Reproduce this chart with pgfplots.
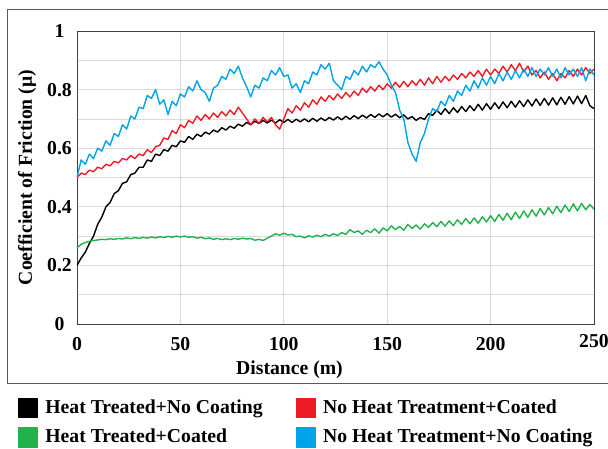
\documentclass[border=0pt]{standalone}
\usepackage{fontspec}
\setmainfont{Liberation Serif}
\usepackage{pgfplots}
\pgfplotsset{compat=1.18}

\definecolor{cblack}{HTML}{000000}
\definecolor{cred}{HTML}{ED1C24}
\definecolor{cgreen}{HTML}{22B14C}
\definecolor{cblue}{HTML}{00A2E8}
\definecolor{gridgray}{HTML}{D9D9D9}
\definecolor{axisgray}{HTML}{404040}
\definecolor{framegray}{HTML}{595959}

% Heat Treated + No Coating
\pgfplotstableread{
x y
0 0.200
2 0.225
4 0.245
6 0.275
8 0.300
10 0.340
12 0.365
14 0.400
16 0.415
18 0.445
20 0.455
22 0.480
24 0.485
26 0.510
28 0.515
30 0.535
32 0.535
34 0.560
36 0.555
38 0.580
40 0.575
42 0.595
44 0.590
46 0.610
48 0.605
50 0.625
52 0.620
54 0.640
56 0.630
58 0.648
60 0.640
62 0.655
64 0.648
66 0.662
68 0.655
70 0.670
72 0.662
74 0.675
76 0.668
78 0.682
80 0.675
82 0.688
84 0.680
86 0.692
88 0.684
90 0.695
92 0.686
94 0.696
96 0.686
98 0.697
100 0.688
102 0.698
104 0.688
106 0.699
108 0.690
110 0.700
112 0.690
114 0.702
116 0.692
118 0.703
120 0.694
122 0.705
124 0.696
126 0.707
128 0.697
130 0.709
132 0.699
134 0.711
136 0.701
138 0.713
140 0.703
142 0.715
144 0.705
146 0.717
148 0.707
150 0.718
152 0.706
154 0.716
156 0.704
158 0.714
160 0.700
162 0.708
164 0.695
166 0.705
168 0.698
170 0.718
172 0.712
174 0.730
176 0.715
178 0.735
180 0.718
182 0.738
184 0.722
186 0.742
188 0.725
190 0.745
192 0.728
194 0.750
196 0.730
198 0.752
200 0.733
202 0.755
204 0.735
206 0.758
208 0.738
210 0.760
212 0.740
214 0.762
216 0.742
218 0.765
220 0.744
222 0.768
224 0.746
226 0.770
228 0.747
230 0.772
232 0.748
234 0.774
236 0.750
238 0.776
240 0.751
242 0.778
244 0.752
246 0.780
248 0.745
250 0.735
}\htnc

% No Heat Treatment + Coated
\pgfplotstableread{
x y
0 0.500
2 0.515
4 0.510
6 0.525
8 0.520
10 0.535
12 0.530
14 0.545
16 0.540
18 0.555
20 0.550
22 0.565
24 0.560
26 0.575
28 0.565
30 0.580
32 0.575
34 0.595
36 0.585
38 0.605
40 0.610
42 0.635
44 0.630
46 0.660
48 0.650
50 0.680
52 0.670
54 0.695
56 0.685
58 0.710
60 0.695
62 0.715
64 0.700
66 0.720
68 0.705
70 0.725
72 0.710
74 0.730
76 0.715
78 0.740
80 0.720
82 0.700
84 0.680
86 0.700
88 0.685
90 0.705
92 0.690
94 0.705
96 0.680
98 0.665
100 0.700
102 0.735
104 0.720
106 0.745
108 0.730
110 0.755
112 0.740
114 0.765
116 0.750
118 0.775
120 0.760
122 0.780
124 0.765
126 0.785
128 0.770
130 0.790
132 0.775
134 0.795
136 0.780
138 0.805
140 0.790
142 0.810
144 0.795
146 0.815
148 0.800
150 0.820
152 0.805
154 0.825
156 0.808
158 0.828
160 0.810
162 0.830
164 0.815
166 0.835
168 0.815
170 0.840
172 0.820
174 0.845
176 0.825
178 0.845
180 0.830
182 0.850
184 0.835
186 0.855
188 0.840
190 0.860
192 0.845
194 0.865
196 0.845
198 0.870
200 0.850
202 0.870
204 0.855
206 0.880
208 0.860
210 0.885
212 0.865
214 0.890
216 0.860
218 0.880
220 0.850
222 0.865
224 0.840
226 0.860
228 0.835
230 0.855
232 0.830
234 0.855
236 0.840
238 0.865
240 0.845
242 0.870
244 0.850
246 0.875
248 0.855
250 0.870
}\nhtc

% Heat Treated + Coated
\pgfplotstableread{
x y
0 0.260
2 0.272
4 0.278
6 0.282
8 0.285
10 0.287
12 0.289
14 0.288
16 0.291
18 0.289
20 0.292
22 0.290
24 0.294
26 0.291
28 0.295
30 0.292
32 0.296
34 0.293
36 0.297
38 0.294
40 0.298
42 0.295
44 0.299
46 0.296
48 0.300
50 0.297
52 0.300
54 0.296
56 0.298
58 0.293
60 0.296
62 0.291
64 0.294
66 0.289
68 0.292
70 0.288
72 0.291
74 0.288
76 0.292
78 0.289
80 0.293
82 0.290
84 0.292
86 0.286
88 0.289
90 0.285
92 0.293
94 0.300
96 0.308
98 0.303
100 0.310
102 0.304
104 0.306
106 0.298
108 0.300
110 0.294
112 0.301
114 0.297
116 0.303
118 0.298
120 0.306
122 0.300
124 0.308
126 0.302
128 0.312
130 0.306
132 0.322
134 0.312
136 0.318
138 0.306
140 0.320
142 0.312
144 0.325
146 0.310
148 0.328
150 0.318
152 0.335
154 0.322
156 0.333
158 0.320
160 0.340
162 0.326
164 0.338
166 0.324
168 0.342
170 0.330
172 0.346
174 0.332
176 0.350
178 0.334
180 0.352
182 0.336
184 0.356
186 0.340
188 0.360
190 0.342
192 0.362
194 0.344
196 0.366
198 0.348
200 0.370
202 0.350
204 0.374
206 0.354
208 0.378
210 0.356
212 0.382
214 0.360
216 0.386
218 0.364
220 0.390
222 0.368
224 0.394
226 0.372
228 0.398
230 0.376
232 0.402
234 0.380
236 0.406
238 0.384
240 0.410
242 0.386
244 0.412
246 0.390
248 0.408
250 0.392
}\htc

% No Heat Treatment + No Coating
\pgfplotstableread{
x y
0 0.500
2 0.560
4 0.545
6 0.580
8 0.565
10 0.600
12 0.590
14 0.625
16 0.610
18 0.650
20 0.640
22 0.680
24 0.665
26 0.710
28 0.700
30 0.740
32 0.735
34 0.780
36 0.770
38 0.800
40 0.750
42 0.765
44 0.715
46 0.760
48 0.745
50 0.785
52 0.775
54 0.810
56 0.795
58 0.830
60 0.800
62 0.790
64 0.760
66 0.805
68 0.815
70 0.845
72 0.835
74 0.870
76 0.855
78 0.880
80 0.840
82 0.810
84 0.775
86 0.815
88 0.805
90 0.840
92 0.830
94 0.865
96 0.850
98 0.875
100 0.845
102 0.850
104 0.805
106 0.820
108 0.790
110 0.830
112 0.820
114 0.860
116 0.850
118 0.885
120 0.870
122 0.890
124 0.830
126 0.815
128 0.800
130 0.845
132 0.835
134 0.865
136 0.850
138 0.880
140 0.860
142 0.885
144 0.875
146 0.895
148 0.870
150 0.850
152 0.815
154 0.790
156 0.730
158 0.700
160 0.620
162 0.580
164 0.555
166 0.620
168 0.650
170 0.700
172 0.735
174 0.725
176 0.760
178 0.745
180 0.780
182 0.760
184 0.795
186 0.780
188 0.815
190 0.795
192 0.830
194 0.805
196 0.840
198 0.815
200 0.845
202 0.820
204 0.855
206 0.830
208 0.860
210 0.835
212 0.865
214 0.840
216 0.870
218 0.845
220 0.875
222 0.845
224 0.870
226 0.850
228 0.875
230 0.845
232 0.870
234 0.840
236 0.875
238 0.850
240 0.870
242 0.845
244 0.875
246 0.830
248 0.870
250 0.850
}\nhtnc

\begin{document}%
\fontsize{19.7}{22}\selectfont\bfseries%
\begin{tikzpicture}
\begin{axis}[
    at={(0pt,0pt)}, anchor=south west,
    scale only axis,
    width=517pt, height=293pt,
    xmin=0, xmax=250, ymin=0, ymax=1,
    xtick={0,50,100,150,200},
    extra x ticks={250},
    extra x tick style={grid=none, xticklabel style={yshift=3pt}},
    ytick={0,0.2,0.4,0.6,0.8,1},
    minor ytick={0.1,0.3,0.5,0.7,0.9},
    grid=both,
    major grid style={draw=gridgray, line width=0.8pt},
    minor grid style={draw=gridgray, line width=0.8pt},
    major tick length=0pt, minor tick length=0pt,
    axis line style={draw=axisgray, line width=0.9pt},
    /pgf/number format/assume math mode=true,
    xticklabel style={anchor=center, yshift=-20.5pt},
    yticklabel style={anchor=center, xshift=-17.5pt},
    xlabel={Distance (m)},
    xlabel style={at={(axis description cs:0.411,-0.157)}, anchor=center},
    ylabel={Coefficient of Friction (μ)},
    ylabel style={at={(axis description cs:-0.0967,0.5)}, anchor=center},
    legend columns=2,
    legend cell align=left,
    legend style={draw=none, fill=none, inner sep=0pt, outer sep=0pt,
        at={(axis description cs:-0.1141,-0.2526)}, anchor=north west,
        row sep=9pt, nodes={inner sep=0pt},
        /tikz/every odd column/.append style={column sep=7pt},
        /tikz/every even column/.append style={column sep=33pt}},
    legend image code/.code={\fill[#1] (0pt,-9.5pt) rectangle (19pt,9.5pt);},
    every axis plot/.append style={line width=1.4pt, line join=round},
]
\addplot[cblack] table {\htnc};
\addlegendentry{Heat Treated+No Coating}
\addplot[cred] table {\nhtc};
\addlegendentry{No Heat Treatment+Coated}
\addplot[cgreen] table {\htc};
\addlegendentry{Heat Treated+Coated}
\addplot[cblue] table {\nhtnc};
\addlegendentry{No Heat Treatment+No Coating}
\end{axis}
\draw[draw=framegray, line width=0.8pt] (-70pt,-59pt) rectangle (560pt,315pt);
\pgfresetboundingbox
\useasboundingbox (-77pt,-124pt) rectangle (531pt,324pt);
\end{tikzpicture}%
\end{document}
